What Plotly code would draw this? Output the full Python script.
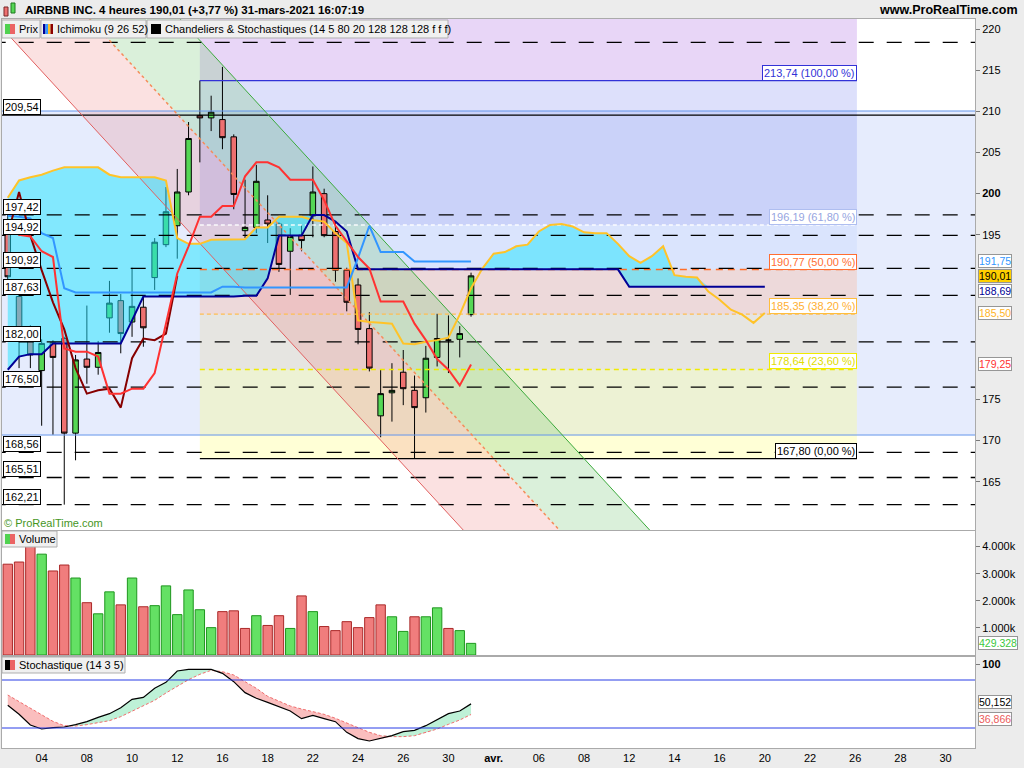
import plotly.graph_objects as go

# ---------------- data ----------------
candle_idx = list(range(42))
opens = [196.0, 187.5, 183.0, 178.5, 181.9, 182.4, 170.9, 179.9, 178.9, 184.9,
         187.0, 184.4, 186.2, 189.8, 193.8, 196.1, 200.2, 209.5, 209.2, 209.0,
         206.9, 195.5, 195.9, 196.8, 196.3, 193.0, 194.9, 197.3, 200.0, 195.4,
         190.7, 188.9, 183.6, 173.0, 175.8, 178.3, 176.1, 175.2, 180.1, 182.2,
         182.3, 185.3]
highs = [198.0, 188.0, 184.0, 182.3, 182.2, 182.6, 180.4, 186.4, 182.1, 189.4,
         187.8, 191.0, 187.5, 194.6, 200.8, 203.0, 208.7, 213.74, 211.9, 215.4,
         207.2, 201.7, 203.5, 199.8, 196.5, 195.8, 196.2, 203.3, 200.6, 196.6,
         191.0, 189.7, 185.6, 178.6, 179.4, 181.0, 177.9, 181.5, 185.4, 185.2,
         183.9, 190.4]
lows = [189.3, 178.8, 178.8, 171.8, 170.7, 162.21, 167.6, 176.9, 178.0, 183.1,
        180.6, 182.6, 181.4, 188.3, 193.5, 192.1, 199.8, 203.8, 207.6, 205.4,
        198.1, 194.6, 195.2, 194.0, 190.5, 187.7, 193.0, 194.7, 194.7, 189.3,
        185.7, 181.7, 178.4, 170.4, 172.3, 174.3, 167.8, 173.4, 179.0, 178.2,
        180.1, 185.05]
closes = [189.9, 182.8, 180.4, 181.8, 180.1, 170.9, 179.8, 178.9, 180.7, 186.7,
          183.0, 186.3, 183.7, 194.1, 197.8, 200.2, 206.7, 209.2, 209.9, 206.8,
          199.9, 195.9, 201.5, 196.3, 191.4, 194.8, 194.3, 200.2, 194.9, 190.7,
          186.8, 183.5, 178.8, 175.7, 176.1, 176.3, 174.0, 180.0, 182.4, 182.2,
          183.0, 190.01]

volume = [3.35e6, 3.43e6, 4.20e6, 3.72e6, 3.10e6, 3.32e6, 2.84e6, 1.93e6, 1.52e6, 2.33e6,
          1.85e6, 2.84e6, 1.78e6, 1.82e6, 2.55e6, 1.49e6, 2.40e6, 1.67e6, 1.01e6, 1.60e6,
          1.63e6, 0.98e6, 1.45e6, 1.09e6, 1.45e6, 0.98e6, 2.18e6, 1.60e6, 1.05e6, 0.90e6,
          1.23e6, 1.01e6, 1.38e6, 1.85e6, 1.41e6, 0.87e6, 1.41e6, 1.41e6, 1.74e6, 0.98e6,
          0.90e6, 0.429328e6]
volume_dir = list("RRRGRRGRGG" "RGRGGGGGGR" "RRGRRGRGRR" "RRRRGGRGGR" "GG")

tenkan = [195.9, 195.0, 194.8, 193.0, 192.3, 181.2, 180.8, 180.8, 180.2, 175.7,
          175.7, 176.3, 176.3, 178.2, 184.2, 190.3, 193.6, 197.2, 197.2, 198.5,
          198.5, 202.1, 203.8, 203.8, 203.2, 201.7, 201.7, 201.7, 199.2, 196.1,
          194.2, 192.3, 190.9, 186.9, 186.9, 186.9, 184.2, 182.2, 179.9, 178.6,
          176.7, 179.25]
kijun = [197.3, 197.2, 197.0, 195.2, 194.6, 188.5, 188.0, 188.0, 188.0, 188.0,
         188.0, 188.0, 188.0, 188.0, 188.0, 188.0, 188.0, 188.0, 188.0, 188.7,
         188.7, 188.6, 188.6, 188.6, 188.6, 188.6, 188.6, 188.6, 188.6, 188.6,
         188.6, 192.2, 196.1, 192.9, 192.9, 192.9, 191.75, 191.75, 191.75, 191.75,
         191.75, 191.75]
chikou = [195.0, 200.2, 194.9, 190.7, 186.8, 183.5, 178.8, 175.7, 176.1, 176.3,
          174.0, 180.0, 182.4, 182.2, 183.0, 190.01]
cloud_idx = list(range(68))
senkou_a = [199.5, 201.6, 202.0, 202.3, 202.8, 203.2, 203.2, 203.2, 203.2, 202.3,
            202.0, 202.0, 202.0, 202.0, 201.6, 194.6, 193.9, 193.9, 194.4, 194.4,
            194.4, 194.45, 195.9, 195.9, 197.2, 197.2, 197.2, 196.8, 196.6, 195.2,
            194.0, 184.6, 184.4, 184.3, 184.2, 181.8, 181.7, 182.0, 182.2, 182.5,
            185.3, 188.5, 190.9, 192.7, 192.9, 193.6, 193.8, 195.4, 196.2, 196.3,
            196.0, 195.3, 195.2, 195.2, 193.9, 192.4, 191.6, 192.4, 193.6, 190.1,
            189.9, 189.8, 188.1, 187.1, 185.9, 185.3, 184.3, 185.5]
senkou_b = [178.6, 180.2, 180.5, 180.5, 181.8, 181.8, 181.8, 181.8, 181.8, 181.8,
            181.8, 184.6, 187.5, 187.5, 187.5, 187.5, 187.5, 187.5, 187.5, 187.5,
            187.5, 187.6, 187.6, 189.7, 194.9, 194.9, 194.9, 197.4, 197.4, 196.6,
            195.4, 190.8, 190.8, 190.8, 190.8, 190.8, 190.8, 190.8, 190.8, 190.8,
            190.8, 190.8, 190.8, 190.8, 190.8, 190.8, 190.8, 190.8, 190.8, 190.8,
            190.8, 190.8, 190.8, 190.8, 190.8, 188.69, 188.69, 188.69, 188.69, 188.69,
            188.69, 188.69, 188.69, 188.69, 188.69, 188.69, 188.69, 188.69]

stoch_k = [48.5, 37.1, 23.75, 18.75, 20.4, 21.25, 24.2, 27.9, 33.3, 37.9,
           45.4, 55.8, 58.3, 69.6, 77.1, 91.25, 93.3, 93.75, 93.3, 88.3,
           77.9, 64.2, 57.1, 52.1, 47.1, 41.25, 31.7, 35.8, 31.7, 27.9,
           14.6, 6.7, 3.75, 6.7, 10.4, 15.4, 17.1, 22.9, 30.8, 37.9,
           41.25, 50.152]
stoch_d = [61.25, 52.9, 44.6, 36.25, 28.3, 22.9, 22.5, 24.2, 26.7, 29.2,
           34.2, 41.25, 47.9, 54.6, 63.75, 72.5, 80.4, 87.1, 92.1, 90.4,
           86.25, 77.9, 69.6, 59.6, 53.75, 47.5, 43.75, 40.4, 37.1, 32.1,
           26.7, 20.4, 14.6, 10.4, 9.2, 9.2, 10.4, 15.0, 18.75, 24.6,
           30.0, 36.866]
stoch_levels = [80, 20]

dashed_levels = [218.38, 197.42, 194.92, 190.92, 187.63, 182.00, 176.50, 168.56, 165.51, 162.21]
solid_level = 209.54
left_labels = [209.54, 197.42, 194.92, 190.92, 187.63, 182.00, 176.50, 168.56, 165.51, 162.21]
zone_band = [170.67, 210.04]

fib_levels = [213.74, 196.19, 190.77, 185.35, 178.64, 167.80]
fib_pcts = ["100,00 %", "61,80 %", "50,00 %", "38,20 %", "23,60 %", "0,00 %"]
fib_span = [17, 75.15]

chan_red = ([-3.1, 42.4], [224.0, 156.0])
chan_mid = ([5.4, 50.9], [224.0, 156.0])
chan_green = ([13.4, 58.9], [224.0, 156.0])

xtick_pos = [3, 7, 11, 15, 19, 23, 27, 31, 35, 39, 43, 47, 51, 55, 59, 63, 67, 71, 75, 79, 83]
xtick_txt = ["04", "08", "10", "12", "16", "18", "22", "24", "26", "30", "<b>avr.</b>",
             "06", "08", "12", "14", "16", "20", "22", "26", "28", "30"]
price_ticks = [165, 170, 175, 195, 200, 205, 210, 215, 220]
vol_ticks = [1e6, 2e6, 3e6, 4e6]
vol_tick_txt = ["1.000k", "2.000k", "3.000k", "4.000k"]

# ---------------- layout helpers ----------------
W, H = 1024, 768
ML, MR, MT, MB = 2, 49, 19, 20
PW, PH = W - ML - MR, H - MT - MB
FONT = "Liberation Sans, Arial, sans-serif"
XR = [-0.51, 85.6]
YR = [159.13, 221.22]


def px(xp):
    return (xp - ML) / PW


def py(yp):
    return (H - MB - yp) / PH


def fmt(v):
    return f"{v:.2f}".replace(".", ",")


fig = go.Figure()
shapes = []
annotations = []

# background band
shapes.append(dict(type="rect", xref="x", yref="y", x0=XR[0] - 2, x1=XR[1] + 2,
                   y0=zone_band[0], y1=zone_band[1], fillcolor="rgb(230,236,253)",
                   line_width=0, layer="below"))
# fibonacci zones
fib_zone_colors = ["rgba(190,140,232,0.36)", "rgba(120,130,240,0.25)", "rgba(170,200,255,0.2)",
                   "rgba(255,170,130,0.28)", "rgba(230,215,175,0.36)", "rgba(255,255,120,0.3)"]
bounds = [224.0] + fib_levels
for k in range(6):
    shapes.append(dict(type="rect", xref="x", yref="y", x0=fib_span[0], x1=fib_span[1],
                       y0=bounds[k + 1], y1=bounds[k], fillcolor=fib_zone_colors[k],
                       line_width=0, layer="below"))


def poly(a, b):
    (ax, ay), (bx, by) = a, b
    return (f"M {ax[0]},{ay[0]} L {bx[0]},{by[0]} L {bx[1]},{by[1]} L {ax[1]},{ay[1]} Z")


shapes.append(dict(type="path", xref="x", yref="y", path=poly(chan_red, chan_mid),
                   fillcolor="rgba(235,120,120,0.22)", line_width=0, layer="below"))
shapes.append(dict(type="path", xref="x", yref="y", path=poly(chan_mid, chan_green),
                   fillcolor="rgba(120,200,120,0.27)", line_width=0, layer="below"))

# ---------------- main panel traces ----------------
cloud_top = [max(a, b) for a, b in zip(senkou_a, senkou_b)]
fig.add_trace(go.Scatter(x=cloud_idx, y=senkou_b, mode="lines", line=dict(width=0),
                         hoverinfo="skip", showlegend=False))
fig.add_trace(go.Scatter(x=cloud_idx, y=cloud_top, mode="lines", line=dict(width=0),
                         fill="tonexty", fillcolor="rgba(30,228,255,0.5)",
                         hoverinfo="skip", showlegend=False))

XL = [XR[0] - 1, XR[1] + 1]
for lv in zone_band:
    fig.add_trace(go.Scatter(x=XL, y=[lv, lv], mode="lines",
                             line=dict(color="rgb(100,150,235)", width=1), showlegend=False))

fib_line_styles = [("rgb(50,50,215)", "solid", 1.2), ("rgba(255,255,255,0.9)", "4px,3px", 1.5),
                   ("rgb(255,110,40)", "7px,5px", 1.5), ("rgb(255,190,80)", "4px,3px", 1.2),
                   ("rgb(240,235,0)", "5px,4px", 1.6), ("black", "solid", 1.2)]
for lv, (c, d, w) in zip(fib_levels, fib_line_styles):
    fig.add_trace(go.Scatter(x=fib_span, y=[lv, lv], mode="lines",
                             line=dict(color=c, width=w, dash=d), showlegend=False))

for lv in dashed_levels:
    fig.add_trace(go.Scatter(x=XL, y=[lv, lv], mode="lines",
                             line=dict(color="black", width=1.3, dash="15px,13px"),
                             showlegend=False))
fig.add_trace(go.Scatter(x=XL, y=[solid_level, solid_level], mode="lines",
                         line=dict(color="black", width=1.2), showlegend=False))

fig.add_trace(go.Scatter(x=chan_red[0], y=chan_red[1], mode="lines",
                         line=dict(color="rgb(225,95,95)", width=1), showlegend=False))
fig.add_trace(go.Scatter(x=chan_mid[0], y=chan_mid[1], mode="lines",
                         line=dict(color="rgb(245,140,90)", width=1.5, dash="3px,3px"),
                         showlegend=False))
fig.add_trace(go.Scatter(x=chan_green[0], y=chan_green[1], mode="lines",
                         line=dict(color="rgb(60,170,60)", width=1), showlegend=False))

fig.add_trace(go.Candlestick(
    x=candle_idx, open=opens, high=highs, low=lows, close=closes,
    increasing=dict(fillcolor="rgb(85,215,85)", line=dict(color="black", width=1)),
    decreasing=dict(fillcolor="rgb(238,112,112)", line=dict(color="black", width=1)),
    whiskerwidth=0, showlegend=False))

fig.add_trace(go.Scatter(x=cloud_idx, y=senkou_a, mode="lines",
                         line=dict(color="rgb(255,195,40)", width=2), showlegend=False))
fig.add_trace(go.Scatter(x=cloud_idx, y=senkou_b, mode="lines",
                         line=dict(color="rgb(0,0,150)", width=2), showlegend=False))
fig.add_trace(go.Scatter(x=candle_idx, y=kijun, mode="lines",
                         line=dict(color="rgb(50,150,255)", width=2), showlegend=False))
fig.add_trace(go.Scatter(x=candle_idx[:len(chikou)], y=chikou, mode="lines",
                         line=dict(color="rgb(135,0,0)", width=2), showlegend=False))
fig.add_trace(go.Scatter(x=candle_idx, y=tenkan, mode="lines",
                         line=dict(color="rgb(255,50,50)", width=2), showlegend=False))

# ---------------- volume panel ----------------
fig.add_trace(go.Bar(
    x=candle_idx, y=volume, xaxis="x2", yaxis="y2",
    marker=dict(color=["rgb(100,225,100)" if d == "G" else "rgb(240,125,125)" for d in volume_dir],
                line=dict(color=["rgb(30,150,30)" if d == "G" else "rgb(170,40,40)" for d in volume_dir],
                          width=1)),
    showlegend=False))

# ---------------- stochastic panel ----------------
k_hi = [max(a, b) for a, b in zip(stoch_k, stoch_d)]
k_lo = [min(a, b) for a, b in zip(stoch_k, stoch_d)]
for top, col in ((k_hi, "rgba(70,215,140,0.35)"), (k_lo, "rgba(245,110,110,0.45)")):
    fig.add_trace(go.Scatter(x=candle_idx, y=stoch_d, xaxis="x3", yaxis="y3", mode="lines",
                             line=dict(width=0), hoverinfo="skip", showlegend=False))
    fig.add_trace(go.Scatter(x=candle_idx, y=top, xaxis="x3", yaxis="y3", mode="lines",
                             line=dict(width=0), fill="tonexty", fillcolor=col,
                             hoverinfo="skip", showlegend=False))
fig.add_trace(go.Scatter(x=candle_idx, y=stoch_d, xaxis="x3", yaxis="y3", mode="lines",
                         line=dict(color="rgb(240,110,110)", width=1, dash="3px,2px"),
                         showlegend=False))
fig.add_trace(go.Scatter(x=candle_idx, y=stoch_k, xaxis="x3", yaxis="y3", mode="lines",
                         line=dict(color="black", width=1.2), showlegend=False))
for lv in stoch_levels:
    shapes.append(dict(type="line", xref="paper", yref="y3", x0=0, x1=1, y0=lv, y1=lv,
                       line=dict(color="rgb(40,60,230)", width=1), layer="above"))

# ---------------- annotations ----------------
for v in left_labels:
    annotations.append(dict(xref="paper", yref="y", x=px(3), y=v, xanchor="left", yanchor="bottom",
                            text=fmt(v), showarrow=False, font=dict(family=FONT, size=11, color="black"),
                            bgcolor="white", bordercolor="black", borderwidth=1, borderpad=1))

fib_text_colors = ["rgb(50,50,215)", "rgb(150,165,225)", "rgb(255,110,50)",
                   "rgb(255,175,50)", "rgb(225,220,0)", "black"]
fib_border_colors = ["rgb(50,50,215)", "rgb(175,190,240)", "rgb(255,110,50)",
                     "rgb(255,190,60)", "rgb(240,235,0)", "black"]
for v, p, tc, bc in zip(fib_levels, fib_pcts, fib_text_colors, fib_border_colors):
    annotations.append(dict(xref="x", yref="y", x=fib_span[1], y=v, xanchor="right", yanchor="bottom",
                            text=f"{fmt(v)} ({p})", showarrow=False,
                            font=dict(family=FONT, size=11, color=tc),
                            bgcolor="white", bordercolor=bc, borderwidth=1, borderpad=1))

value_labels = [("y", 191.75, "191,75", "rgb(50,150,255)", "white", 1),
                ("y", 190.01, "190,01", "black", "rgb(255,208,0)", 0),
                ("y", 188.69, "188,69", "rgb(0,0,150)", "white", -4),
                ("y", 185.50, "185,50", "rgb(255,180,40)", "white", 0),
                ("y", 179.25, "179,25", "rgb(255,50,50)", "white", 0),
                ("y2", 429328, "429.328", "rgb(60,200,60)", "white", 0),
                ("y3", 50.152, "50,152", "black", "white", 2),
                ("y3", 36.866, "36,866", "rgb(235,90,90)", "white", -4)]
for ax, v, t, tc, bg, ys in value_labels:
    annotations.append(dict(xref="paper", yref=ax, x=px(978), y=v, xanchor="left", yanchor="middle",
                            text=t, showarrow=False, yshift=ys,
                            font=dict(family=FONT, size=10.5, color=tc),
                            bgcolor=bg, bordercolor="rgb(150,150,150)", borderwidth=1, borderpad=0))

# header
annotations.append(dict(xref="paper", yref="paper", x=px(23), y=py(10), xanchor="left", yanchor="middle",
                        text="<b>AIRBNB INC. 4 heures 190,01 (+3,77 %) 31-mars-2021 16:07:19</b>",
                        showarrow=False, font=dict(family=FONT, size=11.5, color="black")))
annotations.append(dict(xref="paper", yref="paper", x=px(1020), y=py(10), xanchor="right", yanchor="middle",
                        text="<b>www.ProRealTime.com</b>", showarrow=False,
                        font=dict(family=FONT, size=12.5, color="black")))


def rect_px(x0, y0, x1, y1, fill, line="rgba(0,0,0,0)", lw=0):
    shapes.append(dict(type="rect", xref="paper", yref="paper", x0=px(x0), x1=px(x1),
                       y0=py(y1), y1=py(y0), fillcolor=fill, line=dict(color=line, width=lw),
                       layer="above"))


# header icon
rect_px(4, 7, 8, 16, "rgb(238,112,112)", "rgb(120,40,40)", 1)
rect_px(11, 3, 15, 13, "rgb(85,215,85)", "rgb(30,120,30)", 1)

# legend boxes
legend_items = [(2, 40, 17, "Prix"), (41, 146, 55, "Ichimoku (9 26 52)"),
                (147, 448, 163, "Chandeliers &amp; Stochastiques (14 5 80 20 128 128 128 f f f)")]
for x0, x1, tx, t in legend_items:
    rect_px(x0, 20, x1, 38, "rgb(240,240,240)", "rgb(175,175,175)", 1)
    annotations.append(dict(xref="paper", yref="paper", x=px(tx), y=py(29), xanchor="left", yanchor="middle",
                            text=t, showarrow=False, font=dict(family=FONT, size=11, color="black")))
rect_px(5, 24, 10, 34, "rgb(80,210,80)")
rect_px(10, 24, 15, 34, "rgb(235,100,100)")
for k, c in enumerate(["rgb(0,0,150)", "rgb(50,150,255)", "rgb(255,190,40)", "rgb(140,0,0)"]):
    rect_px(43 + 2.5 * k, 24, 45.5 + 2.5 * k, 34, c)
rect_px(151, 24, 161, 34, "black")

rect_px(2, 531, 57, 547, "rgb(240,240,240)", "rgb(175,175,175)", 1)
rect_px(5, 534, 10, 544, "rgb(80,210,80)")
rect_px(10, 534, 15, 544, "rgb(235,100,100)")
annotations.append(dict(xref="paper", yref="paper", x=px(17), y=py(539), xanchor="left", yanchor="middle",
                        text="Volume", showarrow=False, font=dict(family=FONT, size=11, color="black")))
rect_px(2, 657, 125, 673, "rgb(240,240,240)", "rgb(175,175,175)", 1)
rect_px(5, 660, 10, 670, "black")
rect_px(10, 660, 15, 670, "rgb(235,100,100)")
annotations.append(dict(xref="paper", yref="paper", x=px(17), y=py(665), xanchor="left", yanchor="middle",
                        text="Stochastique (14 3 5)", showarrow=False,
                        font=dict(family=FONT, size=11, color="black")))

annotations.append(dict(xref="paper", yref="paper", x=px(2), y=py(523), xanchor="left", yanchor="middle",
                        text="© ProRealTime.com", showarrow=False,
                        font=dict(family=FONT, size=11, color="rgb(70,150,30)")))

# ---------------- axes ----------------
GRID = "rgb(170,170,170)"
xcommon = dict(range=XR, showgrid=False, zeroline=False, showline=True, mirror=True,
               linecolor=GRID, linewidth=1, fixedrange=True)
ycommon = dict(showgrid=False, zeroline=False, showline=True, mirror=True, linecolor=GRID,
               linewidth=1, side="right", ticks="outside", ticklen=4, tickcolor="rgb(120,120,120)",
               tickfont=dict(family=FONT, size=11, color="black"), automargin=False)

fig.update_layout(
    width=W, height=H,
    margin=dict(l=ML, r=MR, t=MT, b=MB),
    paper_bgcolor="rgb(236,236,236)", plot_bgcolor="white",
    showlegend=False, bargap=0.17,
    xaxis=dict(**xcommon, anchor="y", showticklabels=False, rangeslider=dict(visible=False)),
    xaxis2=dict(**xcommon, anchor="y2", matches="x", showticklabels=False),
    xaxis3=dict(**xcommon, anchor="y3", matches="x", tickmode="array", tickvals=xtick_pos,
                ticktext=xtick_txt, ticks="", tickfont=dict(family=FONT, size=11, color="black")),
    yaxis=dict(**ycommon, domain=[py(530), 1], range=YR, anchor="x", tickmode="array",
               tickvals=price_ticks,
               ticktext=[("<b>%d</b>" % t) if t == 200 else str(t) for t in price_ticks]),
    yaxis2=dict(**ycommon, domain=[py(655), py(531)], range=[0, 4.575e6], anchor="x2",
                tickmode="array", tickvals=vol_ticks, ticktext=vol_tick_txt),
    yaxis3=dict(**ycommon, domain=[0, py(657)], range=[-5, 108.75], anchor="x3",
                tickmode="array", tickvals=[100], ticktext=["<b>100</b>"]),
    shapes=shapes, annotations=annotations,
)

fig.write_html("out.html", config={"displayModeBar": False},
               post_script="document.body.style.margin='0px';document.body.style.overflow='hidden';")
